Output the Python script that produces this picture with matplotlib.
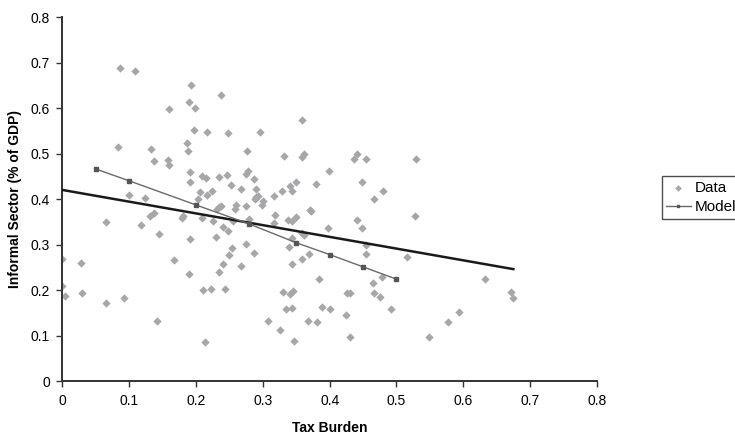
import matplotlib
matplotlib.use("Agg")
import matplotlib.pyplot as plt

plt.rcParams['font.family'] = ['Liberation Sans', 'DejaVu Sans']

# observed data (tax burden, informal sector share of GDP)
tax_burden = [
    0.0, 0.0, 0.004, 0.027, 0.029, 0.065, 0.065, 0.092, 0.1, 0.124, 0.117, 0.131, 0.137, 0.145, 0.142, 0.167, 0.179, 0.181,
    0.086, 0.109, 0.159, 0.083, 0.132, 0.137, 0.158, 0.159,
    0.192, 0.237, 0.19, 0.199, 0.358, 0.197, 0.217, 0.248, 0.295, 0.187, 0.188, 0.277, 0.332, 0.359, 0.361,
    0.191, 0.209, 0.215, 0.234, 0.246, 0.275, 0.278, 0.287,
    0.441, 0.436, 0.455, 0.53, 0.399,
    0.191, 0.35, 0.252, 0.206, 0.224, 0.217, 0.203, 0.268, 0.29, 0.289, 0.293, 0.288, 0.3, 0.299, 0.316, 0.329, 0.34, 0.343,
    0.234, 0.237, 0.231, 0.26, 0.259, 0.275, 0.209, 0.226, 0.256, 0.28, 0.318, 0.316, 0.337, 0.344, 0.349, 0.358,
    0.241, 0.248, 0.191, 0.23, 0.344, 0.254, 0.275, 0.339, 0.287, 0.25, 0.358, 0.241, 0.343, 0.268, 0.235, 0.189,
    0.211, 0.223, 0.243, 0.33, 0.34, 0.345,
    0.379, 0.449, 0.48, 0.467, 0.37, 0.372, 0.441, 0.528, 0.398, 0.449, 0.361, 0.455, 0.369, 0.454, 0.516, 0.479,
    0.384, 0.465, 0.426, 0.43, 0.467, 0.476,
    0.632, 0.672, 0.675, 0.548, 0.577, 0.593,
    0.213, 0.335, 0.343, 0.308, 0.326, 0.346, 0.389, 0.4, 0.492, 0.425, 0.367, 0.381, 0.431,
]
informal = [
    0.269, 0.209, 0.188, 0.259, 0.194, 0.35, 0.171, 0.182, 0.41, 0.403, 0.342, 0.363, 0.369, 0.323, 0.131, 0.265, 0.359, 0.363,
    0.687, 0.681, 0.598, 0.514, 0.511, 0.484, 0.485, 0.474,
    0.65, 0.628, 0.614, 0.6, 0.574, 0.551, 0.547, 0.545, 0.547, 0.524, 0.506, 0.506, 0.495, 0.493, 0.5,
    0.459, 0.451, 0.447, 0.449, 0.453, 0.456, 0.461, 0.443,
    0.5, 0.488, 0.488, 0.488, 0.462,
    0.437, 0.438, 0.431, 0.415, 0.418, 0.409, 0.401, 0.423, 0.423, 0.405, 0.407, 0.4, 0.396, 0.387, 0.407, 0.418, 0.429, 0.418,
    0.383, 0.385, 0.378, 0.387, 0.378, 0.385, 0.358, 0.352, 0.352, 0.356, 0.366, 0.347, 0.355, 0.352, 0.361, 0.326,
    0.339, 0.33, 0.312, 0.317, 0.314, 0.293, 0.301, 0.294, 0.281, 0.277, 0.269, 0.257, 0.257, 0.253, 0.24, 0.235,
    0.2, 0.203, 0.203, 0.195, 0.191, 0.198,
    0.433, 0.437, 0.417, 0.401, 0.377, 0.374, 0.354, 0.363, 0.336, 0.336, 0.32, 0.298, 0.279, 0.279, 0.273, 0.229,
    0.225, 0.216, 0.194, 0.194, 0.194, 0.185,
    0.224, 0.196, 0.183, 0.097, 0.129, 0.152,
    0.086, 0.158, 0.16, 0.133, 0.113, 0.088, 0.163, 0.159, 0.159, 0.145, 0.131, 0.129, 0.097,
]

# model predictions
model_x = [0.05, 0.1, 0.2, 0.28, 0.35, 0.4, 0.45, 0.5]
model_y = [0.466, 0.44, 0.387, 0.345, 0.304, 0.278, 0.251, 0.224]

# linear fit line
fit_x = [0.0, 0.675]
fit_y = [0.42, 0.246]

fig = plt.figure(figsize=(7.35, 4.37), dpi=100)
ax = fig.add_axes([0.085, 0.128, 0.727, 0.833])

ax.scatter(tax_burden, informal, marker='D', s=18, color='#a7a7aa', linewidths=0, label='Data', zorder=2)
ax.plot(fit_x, fit_y, color='#1a1a1a', linewidth=1.8, zorder=3)
ax.plot(model_x, model_y, color='#6a6a6a', linewidth=1.0, marker='s', markersize=2.6,
        markerfacecolor='#555555', markeredgecolor='#555555', label='Model', zorder=4)

ax.set_xlim(0, 0.8)
ax.set_ylim(0, 0.8)
ax.set_xticks([0, 0.1, 0.2, 0.3, 0.4, 0.5, 0.6, 0.7, 0.8])
ax.set_xticklabels(['0', '0.1', '0.2', '0.3', '0.4', '0.5', '0.6', '0.7', '0.8'])
ax.set_yticks([0, 0.1, 0.2, 0.3, 0.4, 0.5, 0.6, 0.7, 0.8])
ax.set_yticklabels(['0', '0.1', '0.2', '0.3', '0.4', '0.5', '0.6', '0.7', '0.8'])

for side in ['top', 'right']:
    ax.spines[side].set_visible(False)
for side in ['left', 'bottom']:
    ax.spines[side].set_color('#333333')
    ax.spines[side].set_linewidth(1.4)
ax.tick_params(direction='out', length=4, width=1, color='#333333', labelsize=10, pad=5)

ax.set_xlabel('Tax Burden', fontsize=10, fontweight='bold', labelpad=10)
ax.set_ylabel('Informal Sector (% of GDP)', fontsize=10, fontweight='bold', labelpad=6)

leg = fig.legend(loc='upper left', bbox_to_anchor=(0.9, 0.597), frameon=True, fancybox=False,
                 fontsize=11, handlelength=1.6, handletextpad=0.25, borderpad=0.3, labelspacing=0.35,
                 borderaxespad=0, markerscale=0.8)
leg.get_frame().set_edgecolor('#222222')
leg.get_frame().set_linewidth(1.0)

fig.savefig('out.png', dpi=100)
